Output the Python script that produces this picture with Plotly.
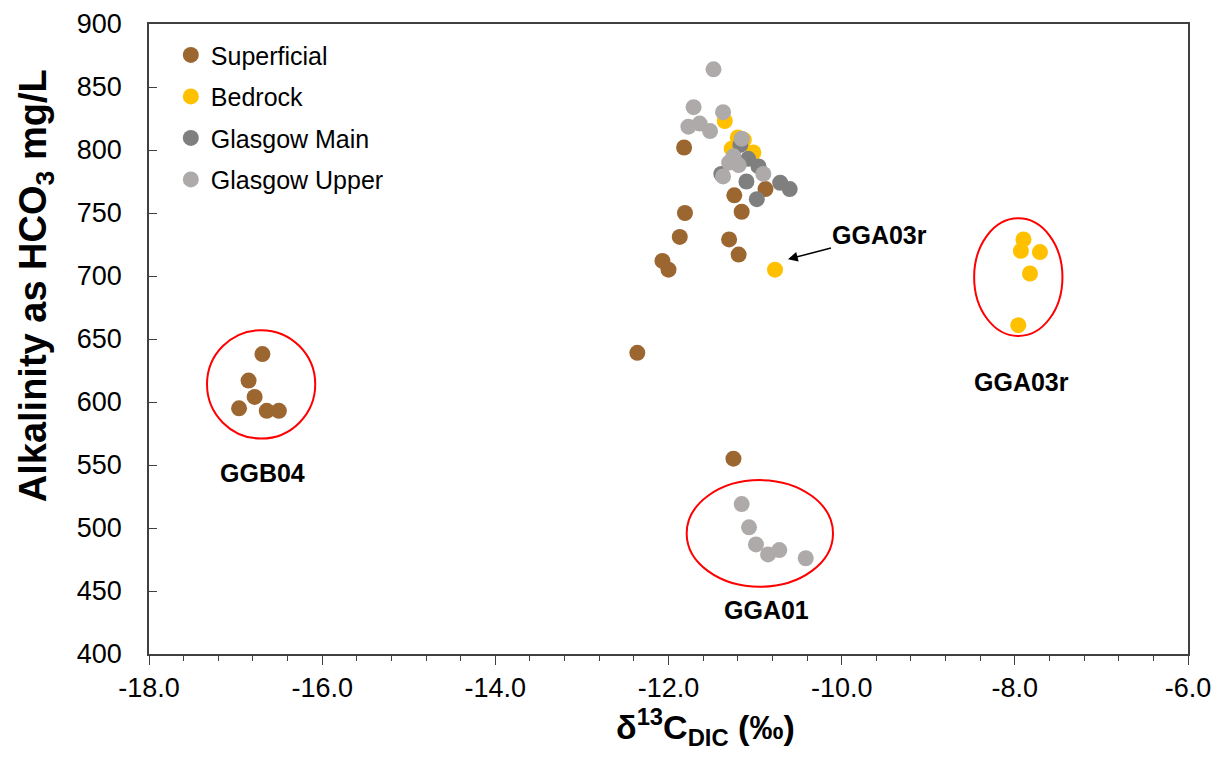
import plotly.graph_objects as go

# ---- data ----
sup_x = [-16.69, -16.85, -16.78, -16.96, -16.64, -16.50,
         -11.82, -11.24, -10.88, -11.155, -11.81, -11.87, -11.30, -11.19,
         -12.07, -12.00, -12.36, -11.25]
sup_y = [638, 617, 604, 595, 593, 593,
         802, 764, 769, 751, 750, 731, 729, 717,
         712, 705, 639, 555]

bed_x = [-11.35, -11.20, -11.13, -11.27, -11.02, -10.77,
         -7.90, -7.93, -7.71, -7.825, -7.96]
bed_y = [823, 810, 808, 801, 798, 705,
         729, 720, 719, 702, 661]

gm_x = [-11.17, -11.08, -11.39, -11.10, -10.96, -10.71, -10.60, -10.98]
gm_y = [804, 793, 781, 775, 787, 774, 769, 761]

gu_x = [-11.48, -11.71, -11.37, -11.77, -11.64, -11.52, -11.155, -11.25,
        -11.19, -11.30, -11.37, -10.905,
        -11.155, -11.07, -10.99, -10.85, -10.72, -10.415]
gu_y = [864, 834, 830, 818.5, 821, 815, 809, 795,
        788, 790, 779, 781,
        519, 500.5, 487, 479, 482.5, 476]

series = [
    ("Superficial", sup_x, sup_y, "#9C6631"),
    ("Bedrock", bed_x, bed_y, "#FFC000"),
    ("Glasgow Main", gm_x, gm_y, "#7F7F7F"),
    ("Glasgow Upper", gu_x, gu_y, "#AEAAAA"),
]

x_ticks = [-18, -16, -14, -12, -10, -8, -6]
x_tick_text = ["-18.0", "-16.0", "-14.0", "-12.0", "-10.0", "-8.0", "-6.0"]
y_ticks = [400, 450, 500, 550, 600, 650, 700, 750, 800, 850, 900]

FONT = "Arial, Liberation Sans, sans-serif"

fig = go.Figure()
for name, xs, ys, col in series:
    fig.add_trace(go.Scatter(
        x=xs, y=ys, mode="markers", name=name, legendgroup=name,
        marker=dict(size=16, color=col, line=dict(width=0)),
    ))

ellipse_line = dict(color="#FF0000", width=2)
fig.add_shape(type="circle", xref="x", yref="y", x0=-17.33, x1=-16.08, y0=571, y1=657, line=ellipse_line)
fig.add_shape(type="circle", xref="x", yref="y", x0=-11.79, x1=-10.10, y0=453.4, y1=538, line=ellipse_line)
fig.add_shape(type="circle", xref="x", yref="y", x0=-8.47, x1=-7.45, y0=652.4, y1=745.8, line=ellipse_line)

lab_font = dict(family=FONT, size=25, color="black")
fig.add_annotation(x=-16.69, y=544, text="<b>GGB04</b>", showarrow=False, font=lab_font)
fig.add_annotation(x=-10.87, y=435, text="<b>GGA01</b>", showarrow=False, font=lab_font)
fig.add_annotation(x=-7.92, y=616, text="<b>GGA03r</b>", showarrow=False, font=lab_font)
fig.add_annotation(x=-10.62, y=713.3, text="<b>GGA03r</b>", showarrow=True,
                   ax=92, ay=-24, arrowhead=2, arrowsize=1.3, arrowwidth=1.5,
                   arrowcolor="black", font=lab_font)

# axis titles
fig.add_annotation(xref="paper", yref="paper", x=0.536, y=-0.116,
                   xanchor="center", yanchor="middle", showarrow=False,
                   text="<b>δ<sup>13</sup>C<sub>DIC</sub> (‰)</b>",
                   font=dict(family=FONT, size=34, color="black"))
fig.add_annotation(xref="paper", yref="paper", x=-0.108, y=0.585,
                   xanchor="center", yanchor="middle", showarrow=False,
                   textangle=-90,
                   text="<b>Alkalinity as HCO<sub>3</sub> mg/L</b>",
                   font=dict(family=FONT, size=38, color="black"))

fig.update_layout(
    width=1228, height=758,
    margin=dict(l=149, r=40, t=24, b=104),
    paper_bgcolor="white", plot_bgcolor="white",
    font=dict(family=FONT, color="black"),
    legend=dict(x=0.021, y=0.987, xanchor="left", yanchor="top",
                font=dict(family=FONT, size=25, color="black"),
                bgcolor="rgba(0,0,0,0)", traceorder="grouped", tracegroupgap=6,
                itemsizing="trace"),
    showlegend=True,
)
fig.update_xaxes(
    range=[-18, -6], tickvals=x_ticks, ticktext=x_tick_text,
    ticks="outside", ticklen=9, tickwidth=1.2, tickcolor="#404040",
    minor=dict(dtick=0.4, ticks="outside", ticklen=5, tickwidth=1.2, tickcolor="#404040"),
    showline=True, linecolor="#404040", linewidth=1.5, mirror=True,
    showgrid=False, zeroline=False,
    tickfont=dict(family=FONT, size=27, color="black"),
    automargin=False,
)
fig.update_yaxes(
    range=[400, 900], tickvals=y_ticks,
    ticks="inside", ticklen=8, tickwidth=1.2, tickcolor="#404040",
    ticklabelstandoff=20,
    showline=True, linecolor="#404040", linewidth=1.5, mirror=True,
    showgrid=False, zeroline=False,
    tickfont=dict(family=FONT, size=27, color="black"),
    automargin=False,
)

fig.write_html("out.html")
